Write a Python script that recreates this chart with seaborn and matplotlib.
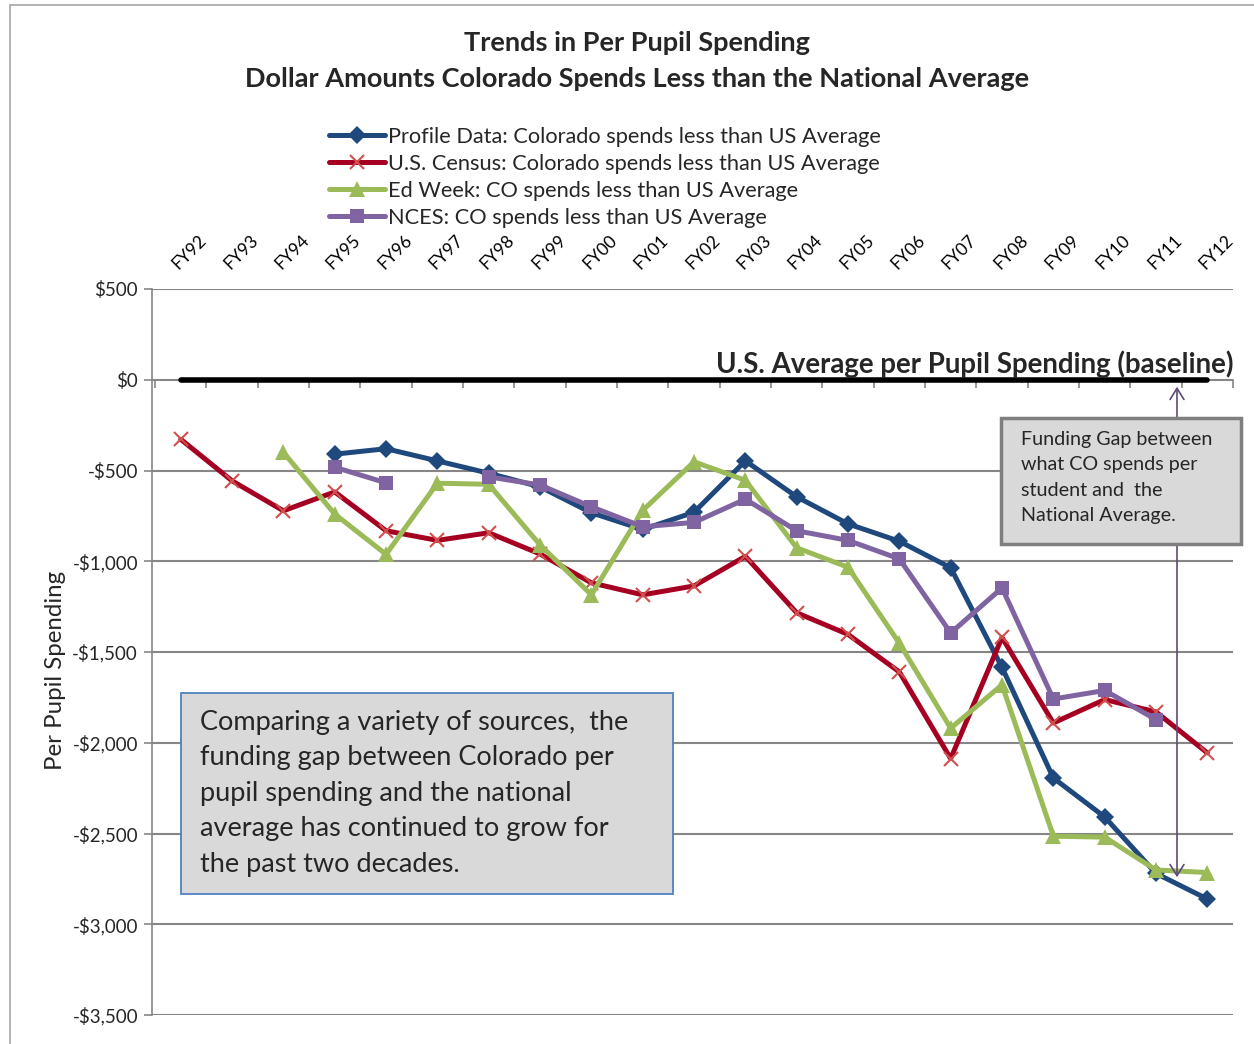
import matplotlib

matplotlib.use("Agg")

import matplotlib.pyplot as plt
import numpy as np
import pandas as pd
import seaborn as sns
from matplotlib.lines import Line2D
from matplotlib.patches import FancyArrowPatch, Rectangle
from matplotlib.ticker import FuncFormatter

nan = np.nan

years = ["FY92", "FY93", "FY94", "FY95", "FY96", "FY97", "FY98", "FY99", "FY00",
         "FY01", "FY02", "FY03", "FY04", "FY05", "FY06", "FY07", "FY08", "FY09",
         "FY10", "FY11", "FY12"]

profile = [nan, nan, nan, -410, -380, -447, -515, -590, -733, -825, -730, -447,
           -645, -794, -890, -1036, -1585, -2194, -2409, -2720, -2861]
census = [-328, -557, -722, -618, -832, -885, -843, -960, -1119, -1185, -1136,
          -973, -1284, -1403, -1610, -2087, -1420, -1891, -1762, -1830, -2056]
edweek = [nan, nan, -400, -740, -962, -570, -576, -910, -1185, -720, -452, -554,
          -926, -1033, -1452, -1920, -1681, -2515, -2520, -2701, -2715]
nces = [nan, nan, nan, -482, -568, nan, -535, -580, -700, -810, -786, -658,
        -832, -885, -987, -1395, -1147, -1759, -1712, -1872, nan]
baseline = [0] * len(years)

series_names = [
    "Profile Data: Colorado spends less than US Average",
    "U.S. Census: Colorado spends less than US Average",
    "Ed Week: CO spends less than US Average",
    "NCES: CO spends less than US Average",
]

W, H = 1254, 1044
FONT = ["Lato", "DejaVu Sans"]
LW = 3.6


def fx(px):
    return px / W


def fy(py):
    return 1 - py / H


def draw_series(ax, values, color, marker, ms, mec, mew):
    # split into contiguous runs so gaps in the data stay gaps
    df = pd.DataFrame({"x": np.arange(len(values)), "y": values})
    df["seg"] = df["y"].isna().cumsum()
    df = df.dropna()
    for _, seg in df.groupby("seg"):
        sns.lineplot(data=seg, x="x", y="y", ax=ax, color=color, linewidth=LW,
                     marker=marker, markersize=ms, markeredgecolor=mec,
                     markeredgewidth=mew, markerfacecolor=color, zorder=4)


def main() -> None:
    sns.set_theme(style="white")
    plt.rcParams["font.family"] = FONT

    fig = plt.figure(figsize=(W / 100, H / 100), dpi=100)
    fig.patches.append(Rectangle((fx(10), -0.1), 2, fy(5) + 0.1, transform=fig.transFigure,
                                 fill=False, edgecolor="#a6a6a6", linewidth=1.2))

    ax = fig.add_axes([fx(152), fy(1015), fx(1233) - fx(152), fy(289) - fy(1015)])
    ax.set_facecolor("none")

    x = np.arange(len(years))
    ax.set_xlim(-0.56, 20.5)
    ax.set_ylim(-3500, 500)
    ax.set_yticks(np.arange(-3500, 501, 500))
    ax.yaxis.set_major_formatter(FuncFormatter(
        lambda v, p: ("-" if v < 0 else "") + "${:,.0f}".format(abs(v))))
    ax.grid(axis="y", color="#868686", linewidth=1.5, zorder=0)
    ax.set_axisbelow(True)

    for s in ["top", "right"]:
        ax.spines[s].set_visible(False)
    ax.spines["left"].set_color("#868686")
    ax.spines["left"].set_linewidth(1.2)
    ax.spines["bottom"].set_position(("data", 0))
    ax.spines["bottom"].set_color("#868686")
    ax.spines["bottom"].set_linewidth(1.2)

    # baseline (US average)
    sns.lineplot(x=x, y=baseline, ax=ax, color="black", linewidth=4, zorder=3)

    draw_series(ax, profile, "#1f497d", "D", 9, "#1f497d", 0)
    draw_series(ax, census, "#a50021", "x", 10, "#d0504d", 1.5)
    draw_series(ax, edweek, "#9bbb59", "^", 11.5, "#9bbb59", 0)
    draw_series(ax, nces, "#8064a2", "s", 10, "#8064a2", 0)

    ax.set_xticks(x)
    ax.set_xticklabels(years)
    ax.set_xticks(np.arange(-0.5, len(years), 1.0), minor=True)
    ax.tick_params(axis="x", which="major", top=True, bottom=False, labeltop=True,
                   labelbottom=False, length=0, pad=12, labelsize=12.5, colors="black")
    ax.tick_params(axis="x", which="minor", bottom=True, top=False, direction="out",
                   length=6, width=1.2, color="#868686")
    for lab in ax.get_xticklabels():
        lab.set_rotation(45)
        lab.set_ha("left")
        lab.set_va("bottom")
        lab.set_rotation_mode("anchor")
    ax.tick_params(axis="y", left=True, direction="out", length=6, width=1.2,
                   color="#868686", labelsize=13.5, pad=4)
    ax.set_xlabel("")
    ax.set_ylabel("Per Pupil Spending", fontsize=17.3)
    ax.yaxis.set_label_coords(-0.08, 0.475)

    handles = [
        Line2D([], [], color="#1f497d", lw=LW, marker="D", ms=9, mew=0),
        Line2D([], [], color="#a50021", lw=LW, marker="x", ms=10, mec="#d0504d", mew=1.5),
        Line2D([], [], color="#9bbb59", lw=LW, marker="^", ms=11.5, mew=0),
        Line2D([], [], color="#8064a2", lw=LW, marker="s", ms=10, mew=0),
    ]
    fig.legend(handles, series_names, loc="upper left", bbox_to_anchor=(fx(320), fy(118)),
               frameon=False, fontsize=15.7, handlelength=2.6, handletextpad=0.1,
               labelspacing=0.32, borderaxespad=0)

    fig.text(fx(637), fy(43), "Trends in Per Pupil Spending", ha="center", va="center",
             fontsize=19.5, fontweight="bold")
    fig.text(fx(637), fy(79), "Dollar Amounts Colorado Spends Less than the National Average",
             ha="center", va="center", fontsize=19.5, fontweight="bold")

    fig.text(fx(1233), fy(373), "U.S. Average per Pupil Spending (baseline)",
             ha="right", va="baseline", fontsize=19.9, fontweight="bold")

    # funding gap arrow and box
    arrow = FancyArrowPatch((fx(1177), fy(384)), (fx(1177), fy(880)),
                            transform=fig.transFigure, arrowstyle="<->,head_length=8,head_width=5",
                            color="#5f497a", linewidth=1.2, zorder=5)
    fig.patches.append(arrow)
    fig.patches.append(Rectangle((fx(1001), fy(544)), fx(1241) - fx(1001), fy(418) - fy(544),
                                 transform=fig.transFigure, facecolor="#d9d9d9",
                                 edgecolor="#7f7f7f", linewidth=2.5, zorder=6))
    fig.text(fx(1021), fy(431), "Funding Gap between\nwhat CO spends per\nstudent and  the\nNational Average.",
             ha="left", va="top", fontsize=14.2, linespacing=1.6, zorder=7)

    fig.patches.append(Rectangle((fx(181), fy(894)), fx(673) - fx(181), fy(693) - fy(894),
                                 transform=fig.transFigure, facecolor="#d9d9d9",
                                 edgecolor="#4f81bd", linewidth=1.3, zorder=6))
    fig.text(fx(200), fy(710), "Comparing a variety of sources,  the\nfunding gap between Colorado per\n"
             "pupil spending and the national\naverage has continued to grow for\nthe past two decades.",
             ha="left", va="top", fontsize=19.5, linespacing=1.52, zorder=7)

    fig.savefig("out.png", dpi=100)
    plt.close(fig)


if __name__ == "__main__":
    main()
